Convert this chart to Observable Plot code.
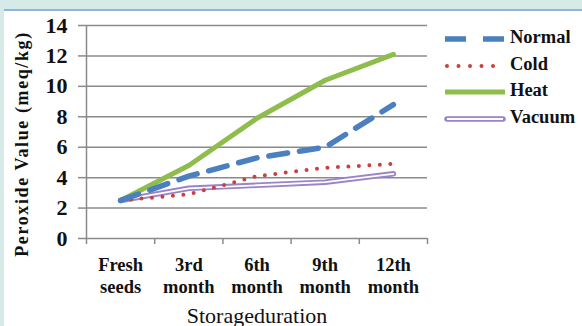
<!DOCTYPE html>
<html>
<head>
<meta charset="utf-8">
<script src="https://cdn.jsdelivr.net/npm/d3@7"></script>
<script src="https://cdn.jsdelivr.net/npm/@observablehq/plot@0.6"></script>
<style>
  html, body { margin: 0; padding: 0; }
  body { width: 582px; height: 326px; background: #d6ebe8; position: relative; overflow: hidden; }
  #panel { position: absolute; left: 4px; top: 9px; width: 578px; height: 317px; background: #fff; border-top: 2px solid #8fb4e0; }
  #chart { position: absolute; left: 0; top: 0; }
  #legend { position: absolute; left: 437px; top: 15px; font-family: "Liberation Serif", "Times New Roman", serif; font-weight: bold; font-size: 18.5px; color: #111; }
  .item { position: absolute; left: 0; height: 26px; white-space: nowrap; }
  .item svg { position: absolute; left: 0; top: 0; }
  .item span { position: absolute; left: 69px; top: 1px; }
</style>
</head>
<body>
<div id="panel"><div id="chart"></div><div id="legend"></div></div>
<script>
// Storage periods (x categories)
const periods = ["Fresh\nseeds", "3rd\nmonth", "6th\nmonth", "9th\nmonth", "12th\nmonth"];
// Peroxide value (meq/kg) per storage condition
const normal = [2.5, 4.1, 5.3, 6.0, 8.8];
const cold   = [2.5, 2.9, 4.1, 4.65, 4.9];
const heat   = [2.5, 4.8, 7.9, 10.4, 12.1];
const vacuum = [2.5, 3.3, 3.5, 3.7, 4.25];
const yTicks = [0, 2, 4, 6, 8, 10, 12, 14];
const seriesNames = ["Normal", "Cold", "Heat", "Vacuum"];

const rows = (vals) => vals.map((v, i) => ({i, v}));
const idx = periods.map((_, i) => i);
const bounds = d3.range(-0.5, periods.length, 1);

const font = `"Liberation Serif", "Times New Roman", serif`;

const chart = Plot.plot({
  width: 578,
  height: 315,
  marginLeft: 82,
  marginRight: 155,
  marginTop: 14,
  marginBottom: 88,
  style: {fontFamily: font, fontWeight: "bold", fontSize: "18px", color: "#111", background: "transparent"},
  x: {type: "linear", domain: [-0.5, periods.length - 0.5], axis: null},
  y: {domain: [0, 14], axis: null},
  marks: [
    Plot.ruleY(yTicks, {stroke: "#8a8a8a", strokeWidth: 1.5}),
    Plot.ruleX([-0.5], {stroke: "#8a8a8a", strokeWidth: 1.5}),
    Plot.axisY({ticks: yTicks, tickSize: 8, tickPadding: 11, stroke: "#8a8a8a", strokeWidth: 1.5, fontSize: 22, fontFamily: font, label: null}),
    Plot.axisX({ticks: bounds, tickSize: 6, tickFormat: () => "", stroke: "#8a8a8a", strokeWidth: 1.5, label: null}),
    Plot.axisX({ticks: idx, tickSize: 0, tickPadding: 17, tickFormat: i => periods[i], lineHeight: 1.2, fontSize: 18.5, fontFamily: font, label: null}),
    Plot.text(["Storageduration"], {frameAnchor: "bottom", dy: 84, fontSize: 22, fontWeight: "normal", fontFamily: font, fill: "#111"}),
    Plot.text(["Peroxide Value (meq/kg)"], {frameAnchor: "left", textAnchor: "middle", dx: -64, dy: 12, rotate: -90, fontSize: 18, fontFamily: font, fill: "#111"}),
    // Vacuum: double purple line
    Plot.line(rows(vacuum), {x: "i", y: "v", stroke: "#9a83c6", strokeWidth: 5.5, strokeLinecap: "round"}),
    Plot.line(rows(vacuum), {x: "i", y: "v", stroke: "#fff", strokeWidth: 1.8}),
    Plot.line(rows(cold), {x: "i", y: "v", stroke: "#c9403c", strokeWidth: 4, strokeDasharray: "0 10.5", strokeLinecap: "round"}),
    Plot.line(rows(heat), {x: "i", y: "v", stroke: "#8fbd4c", strokeWidth: 5}),
    Plot.line(rows(normal), {x: "i", y: "v", stroke: "#4a7fc0", strokeWidth: 5.5, strokeDasharray: "19 12"})
  ]
});
// spaced lettering on the vertical title
chart.querySelectorAll("text").forEach(t => { if (t.textContent.startsWith("Peroxide")) t.setAttribute("letter-spacing", "1.6"); });
document.getElementById("chart").appendChild(chart);

// Legend
const legendStyles = {
  Normal: [{stroke: "#4a7fc0", width: 5.5, dash: "21 17"}],
  Cold:   [{stroke: "#c9403c", width: 4, dash: "0 11.5", cap: "round", x1: 6, x2: 63}],
  Heat:   [{stroke: "#8fbd4c", width: 5}],
  Vacuum: [{stroke: "#9a83c6", width: 5.5, cap: "round", x1: 6, x2: 62}, {stroke: "#fff", width: 1.8, x1: 6, x2: 62}]
};
const legend = document.getElementById("legend");
seriesNames.forEach((name, k) => {
  const item = document.createElement("div");
  item.className = "item";
  item.style.top = (k * 26.7) + "px";
  const ns = "http://www.w3.org/2000/svg";
  const svg = document.createElementNS(ns, "svg");
  svg.setAttribute("width", 66); svg.setAttribute("height", 26);
  legendStyles[name].forEach(s => {
    const l = document.createElementNS(ns, "line");
    l.setAttribute("x1", s.x1 ?? 4); l.setAttribute("x2", s.x2 ?? 64);
    l.setAttribute("y1", 13); l.setAttribute("y2", 13);
    l.setAttribute("stroke", s.stroke); l.setAttribute("stroke-width", s.width);
    if (s.dash) l.setAttribute("stroke-dasharray", s.dash);
    if (s.cap) l.setAttribute("stroke-linecap", s.cap);
    svg.appendChild(l);
  });
  const span = document.createElement("span");
  span.textContent = name;
  item.appendChild(svg); item.appendChild(span);
  legend.appendChild(item);
});
</script>
</body>
</html>
